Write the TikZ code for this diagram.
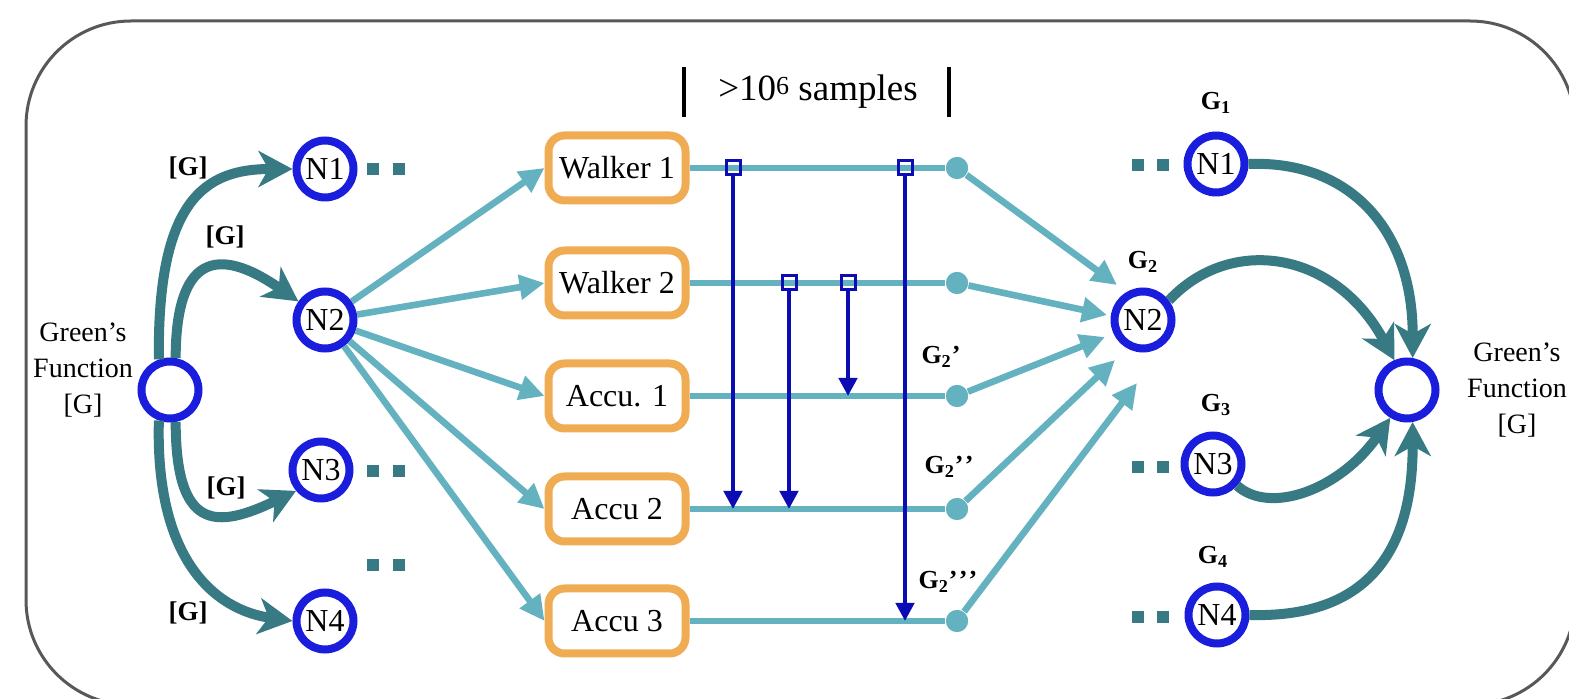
\documentclass[tikz,border=0pt]{standalone}
\usepackage{fontspec}
\setmainfont{Liberation Serif}
\usetikzlibrary{arrows.meta}

\definecolor{flowteal}{RGB}{56,122,132}
\definecolor{sampleteal}{RGB}{100,178,192}
\definecolor{ringblue}{RGB}{26,30,220}
\definecolor{swapblue}{RGB}{12,12,180}
\definecolor{walkerorange}{RGB}{240,172,82}
\definecolor{framegray}{RGB}{88,88,88}

\tikzset{every picture/.style={line width=0.75pt}}
\tikzset{
  ring/.style={circle, draw=ringblue, line width=4pt, fill=white, minimum size=28.5pt, inner sep=0pt, font=\fontsize{16}{18}\selectfont},
  walkerbox/.style={draw=walkerorange, line width=4pt, rounded corners=8pt, fill=white, minimum width=68.5pt, minimum height=32.5pt, inner sep=0pt, font=\fontsize{16}{18}\selectfont},
  tally/.style={circle, fill=sampleteal, minimum size=11pt, inner sep=0pt},
  probe/.style={draw=swapblue, line width=1.5pt, minimum size=7pt, inner sep=0pt},
  ellip/.style={fill=flowteal, minimum size=6pt, inner sep=0pt},
  gflow/.style={draw=flowteal, line width=5pt, -{Stealth[length=17pt,width=18pt,inset=5pt]}},
  sflow/.style={draw=sampleteal, line width=3.3pt, -{Triangle[length=12.5pt,width=12pt]}},
  sline/.style={draw=sampleteal, line width=3.3pt},
  update/.style={draw=swapblue, line width=2.2pt, -{Triangle[length=9pt,width=9pt]}},
  glabel/.style={font=\bfseries\fontsize{13.5}{15}\selectfont},
  gsub/.style={font=\bfseries\fontsize{13}{15}\selectfont},
  gftext/.style={align=center, font=\fontsize{14}{18}\selectfont},
}
\newcommand{\tick}{’\hspace{0.6pt}}

\begin{document}
\begin{tikzpicture}[x=0.5pt,y=0.5pt,yscale=-1,xscale=1]
\useasboundingbox (0,0) rectangle (1569,699);
\fill [white] (0,0) rectangle (1569,699);

%Shape: Rounded Rect
\draw [color=framegray, line width=1.5pt, rounded corners=52.5pt] (26,21) rectangle (1575,705);

%Shape: Circles, left side
\node [ring] (gfl) at (170,390) {};
\node [ring] (ln1) at (325,169) {N1};
\node [ring] (ln2) at (325,320) {N2};
\node [ring] (ln3) at (321,470) {N3};
\node [ring] (ln4) at (325,621) {N4};

%Shape: Circles, right side
\node [ring] (rn1) at (1216,164) {N1};
\node [ring] (rn2) at (1143,320) {N2};
\node [ring] (rn3) at (1213,464) {N3};
\node [ring] (rn4) at (1217,615) {N4};
\node [ring] (gfr) at (1407,390) {};

%Shape: Rounded Rects, walkers and accumulators
\node [walkerbox] (w1) at (617,168) {Walker 1};
\node [walkerbox] (w2) at (617,283) {Walker 2};
\node [walkerbox] (a1) at (617,396) {Accu. 1};
\node [walkerbox] (a2) at (617,509) {Accu 2};
\node [walkerbox] (a3) at (617,621) {Accu 3};

%Shape: Dots, end of each sample line
\node [tally] (t1) at (957,168) {};
\node [tally] (t2) at (957,283) {};
\node [tally] (t3) at (957,396) {};
\node [tally] (t4) at (957,509) {};
\node [tally] (t5) at (957,621) {};

%Shape: Squares ..
\foreach \x/\y/\n in {373/169/a, 399/169/b, 373/471/c, 399/471/d, 373/565/e, 399/565/f,
                      1138/165/g, 1163/165/h, 1138/467/i, 1163/467/j, 1138/617/k, 1163/617/l}
  \node [ellip] (more\n) at (\x,\y) {};

%Curve Lines, Green's function into the nodes
\draw [gflow] (gfl.110) .. controls (157,200) and (205,169) .. (ln1.west);
\draw [gflow] (gfl.80) .. controls (176,257) and (216,244) .. (ln2.145);
\draw [gflow] (gfl.280) .. controls (176,530) and (215,530) .. (ln3.220);
\draw [gflow] (gfl.250) .. controls (155,560) and (215,610) .. (ln4.west);

%Curve Lines, nodes back into Green's function
\draw [gflow] (rn1.east) .. controls (1350,160) and (1413,230) .. (gfr.80);
\draw [gflow] (rn2.37) .. controls (1230,235) and (1335,250) .. (gfr.113);
\draw [gflow] (rn3.318) .. controls (1270,515) and (1340,490) .. (gfr.239);
\draw [gflow] (rn4.east) .. controls (1360,618) and (1413,560) .. (gfr.280);

%Straight Lines, N2 out to the walkers
\draw [sflow] (ln2) -- (w1.west);
\draw [sflow] (ln2) -- (w2.west);
\draw [sflow] (ln2) -- (a1.west);
\draw [sflow] (ln2) -- (a2.west);
\draw [sflow] (ln2) -- (a3.west);

%Straight Lines, sample lines
\draw [sline] (w1) -- (t1);
\draw [sline] (w2) -- (t2);
\draw [sline] (a1) -- (t3);
\draw [sline] (a2) -- (t4);
\draw [sline] (a3) -- (t5);
\node [tally] at (t1) {};
\node [tally] at (t2) {};
\node [tally] at (t3) {};
\node [tally] at (t4) {};
\node [tally] at (t5) {};

%Straight Lines, samples into N2
\coordinate (e1) at (1117,285);
\coordinate (e2) at (1107,315);
\coordinate (e3) at (1105,337);
\coordinate (e4) at (1115,360);
\coordinate (e5) at (1137,383);
\draw [sflow] (t1) -- (e1);
\draw [sflow] (t2) -- (e2);
\draw [sflow] (t3) -- (e3);
\draw [sflow] (t4) -- (e4);
\draw [sflow] (t5) -- (e5);

%Shape: Squares, swap points
\node [probe] (p1) at (733,168) {};
\node [probe] (p2) at (905,168) {};
\node [probe] (p3) at (789,283) {};
\node [probe] (p4) at (848,283) {};

%Straight Lines, swaps
\draw [update] (p1.south) -- (p1 |- a2);
\draw [update] (p2.south) -- (p2 |- a3);
\draw [update] (p3.south) -- (p3 |- a2);
\draw [update] (p4.south) -- (p4 |- a1);

%Straight Lines, sample window
\draw [line width=2pt] (684,67) -- (684,117);
\draw [line width=2pt] (949,67) -- (949,117);

% Text Node
\node [font=\fontsize{18.5}{20}\selectfont] (window) at (818,92) {>10\raisebox{0.35ex}{\fontsize{13}{13}\selectfont 6} samples};
% Text Node
\node [gftext] (gfltext) at (83,370) {Green’s\\Function\\{[G]}};
% Text Node
\node [gftext] (gfrtext) at (1517,390) {Green’s\\Function\\{[G]}};
% Text Node
\node [glabel] (g1) at (188,168) {[G]};
\node [glabel] (g2) at (225,237) {[G]};
\node [glabel] (g3) at (226,488) {[G]};
\node [glabel] (g4) at (188,613) {[G]};
% Text Node
\node [gsub] (G1) at (1216,103) {G\textsubscript{1}};
\node [gsub] (G2) at (1143,262) {G\textsubscript{2}};
\node [gsub] (G3) at (1216,405) {G\textsubscript{3}};
\node [gsub] (G4) at (1213,557) {G\textsubscript{4}};
% Text Node
\node [gsub] (G2a) at (941,357) {G\textsubscript{2}’};
\node [gsub] (G2b) at (949,467) {G\textsubscript{2}\tick’};
\node [gsub] (G2c) at (948,582) {G\textsubscript{2}\tick\tick’};

\end{tikzpicture}
\end{document}
